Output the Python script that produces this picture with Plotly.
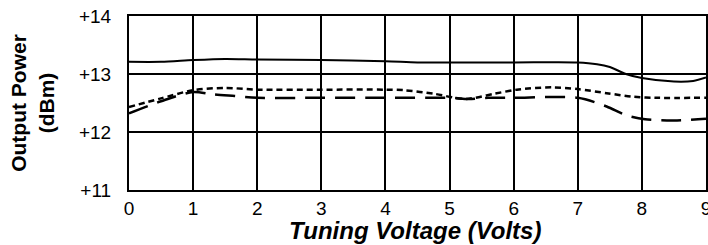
import plotly.graph_objects as go

# Tuning voltage (V) sample points and output power (dBm) for three curves
x_solid = [0, 0.5, 1.0, 1.5, 2.0, 3.0, 4.0, 4.5, 5.0, 6.0, 7.0, 7.3, 7.5, 7.75, 8.0, 8.5, 8.8, 9.0]
y_solid = [13.21, 13.21, 13.24, 13.26, 13.25, 13.24, 13.22, 13.2, 13.2, 13.2, 13.2, 13.17, 13.12, 13.0, 12.93, 12.87, 12.88, 12.94]

x_dot = [0, 0.5, 1.0, 1.5, 2.0, 3.0, 4.0, 4.3, 4.75, 5.25, 5.7, 6.05, 6.6, 7.0, 7.45, 7.85, 8.2, 9.0]
y_dot = [12.43, 12.58, 12.72, 12.76, 12.73, 12.73, 12.73, 12.72, 12.66, 12.57, 12.66, 12.73, 12.77, 12.74, 12.67, 12.61, 12.59, 12.59]

x_dash = [0, 0.5, 1.0, 1.3, 1.65, 2.0, 3.0, 4.0, 5.0, 5.3, 5.6, 6.0, 7.0, 7.45, 7.75, 8.05, 8.5, 9.0]
y_dash = [12.32, 12.53, 12.69, 12.65, 12.62, 12.59, 12.59, 12.59, 12.59, 12.57, 12.59, 12.59, 12.59, 12.44, 12.29, 12.22, 12.2, 12.23]

x_ticks = [0, 1, 2, 3, 4, 5, 6, 7, 8, 9]
y_ticks = [11, 12, 13, 14]
y_tick_text = ["+11", "+12", "+13", "+14"]

fig = go.Figure()
fig.add_trace(go.Scatter(x=x_solid, y=y_solid, mode="lines",
                         line=dict(color="black", width=2, shape="spline", smoothing=0.8)))
fig.add_trace(go.Scatter(x=x_dot, y=y_dot, mode="lines",
                         line=dict(color="black", width=2.5, dash="6px,4px", shape="spline", smoothing=0.8)))
fig.add_trace(go.Scatter(x=x_dash, y=y_dash, mode="lines",
                         line=dict(color="black", width=2.5, dash="20px,10px", shape="spline", smoothing=0.8)))

font = "Liberation Sans, Arial, sans-serif"
fig.update_layout(
    width=708, height=245,
    margin=dict(l=129, r=2, t=16, b=55),
    paper_bgcolor="white", plot_bgcolor="white",
    showlegend=False,
    font=dict(family=font, color="black"),
    xaxis=dict(range=[0, 9], tickvals=x_ticks, showgrid=True, gridcolor="black", gridwidth=2,
               showline=True, linecolor="black", linewidth=2, mirror=True, zeroline=False,
               ticks="", tickfont=dict(size=19, family=font), ticklabelstandoff=0,
               ticklabeloverflow="allow", automargin=False),
    yaxis=dict(range=[11, 14], tickvals=y_ticks, ticktext=y_tick_text, showgrid=True, gridcolor="black", gridwidth=2,
               showline=True, linecolor="black", linewidth=2, mirror=True, zeroline=False,
               ticks="", tickfont=dict(size=19, family=font), ticklabelstandoff=12,
               ticklabeloverflow="allow",
               title=dict(text="<b>Output Power<br>(dBm)</b>", font=dict(size=21, family=font), standoff=19),
               automargin=False),
    annotations=[dict(text="<b><i>Tuning Voltage (Volts)</i></b>", xref="paper", yref="paper",
                      x=0.496, y=-0.145, xanchor="center", yanchor="top", showarrow=False,
                      font=dict(size=24, family=font))],
)
# remove the default page margin so the figure sits at the window's top-left corner
fig.write_html("out.html", config={"displayModeBar": False},
               post_script="document.body.style.margin='0';")
